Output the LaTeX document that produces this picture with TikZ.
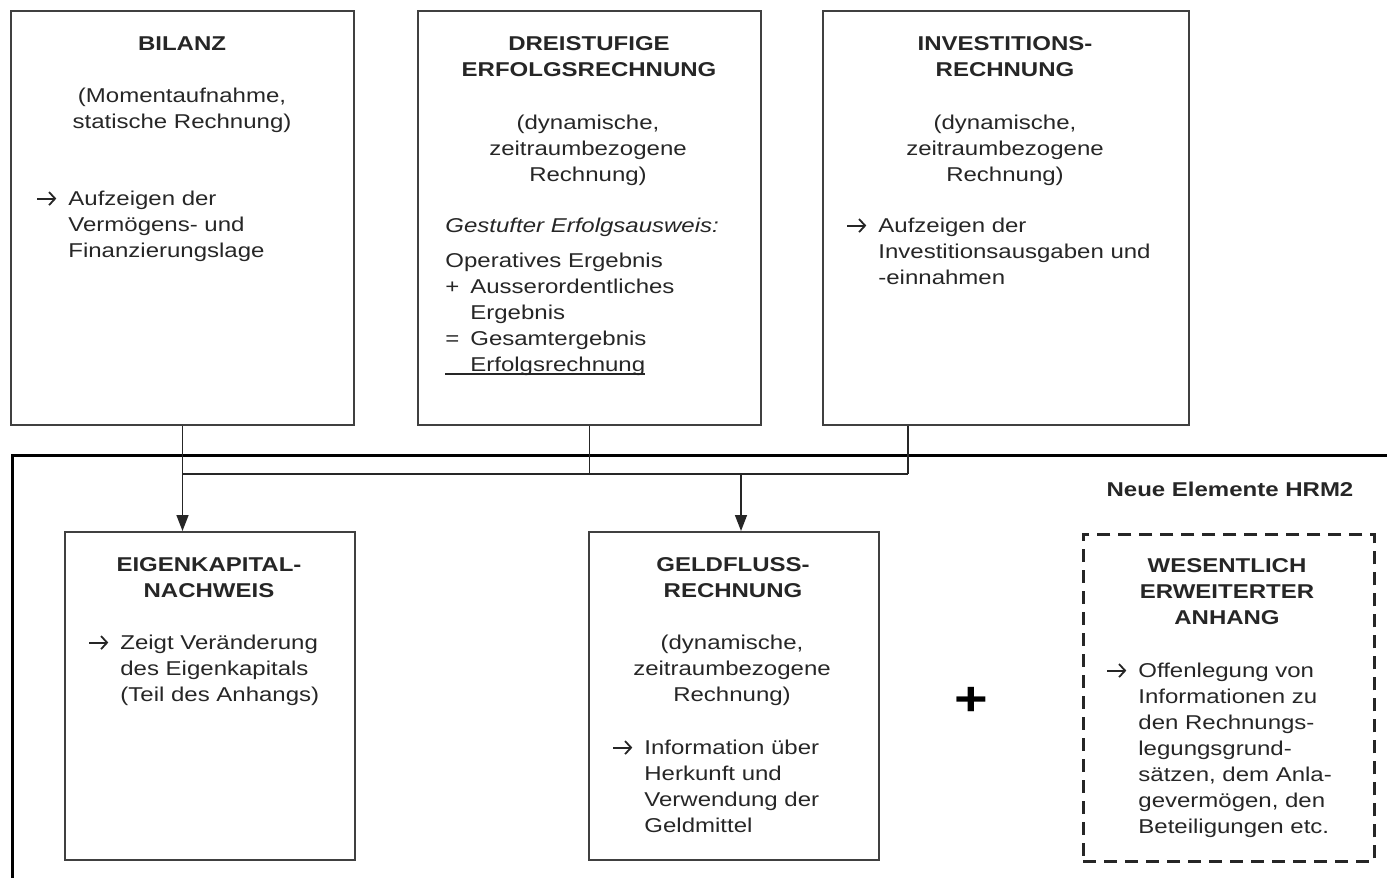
\documentclass[tikz,border=0pt]{standalone}
\usepackage{fontspec}
\setmainfont{Liberation Sans}[FakeStretch=1.2]
\usetikzlibrary{arrows.meta}
\newcommand\arrb{\makebox[16pt][l]{\tikz[baseline=-3.5pt,x=1pt,y=1pt]\draw[black!85, line width=0.9pt, -{Straight Barb[length=3pt,width=6.5pt,line width=0.9pt]}] (0.5pt,0pt) -- (10pt,0pt);}}
\newcommand\indt{\hspace*{16pt}}
\newcommand\opb[1]{\makebox[12.5pt][l]{#1}}
\newcommand\opi{\hspace*{12.5pt}}
\tikzset{
  px/.style={x=0.5pt,y=-0.5pt},
  box/.style={draw=black!75, line width=1pt, inner sep=0, anchor=north west},
  dbox/.style={draw=black!85, line width=1.4pt, dash pattern=on 6.5pt off 4pt, inner sep=0, anchor=north west},
  frame/.style={draw=black, line width=1.5pt},
  conn/.style={draw=black!85, line width=0.75pt},
  arr/.style={conn, -{Triangle[length=8pt,width=6pt]}},
  base/.style={font=\fontsize{10pt}{13pt}\selectfont, text=black!85, inner sep=0},
  ttl/.style={base, font=\fontsize{10pt}{13pt}\selectfont\bfseries, align=center, anchor=north},
  ctr/.style={base, align=center, anchor=north},
  lft/.style={base, align=left, anchor=north west},
  uline/.style={draw=black!85, line width=0.6pt}
}
\begin{document}
\begin{tikzpicture}[px]
\useasboundingbox (0,0) rectangle (1387,878);
% big frame
\draw[frame] (12,455) rectangle (1420,900);
% top boxes
\node[box, minimum width=171.5pt, minimum height=207pt] (bil) at (10,10) {};
\node[box, minimum width=171.5pt, minimum height=207pt] (drei) at (417,10) {};
\node[box, minimum width=183pt, minimum height=207pt] (inv) at (822,10) {};
% bottom boxes
\node[box, minimum width=145pt, minimum height=164pt] (ek) at (64,531) {};
\node[box, minimum width=145pt, minimum height=164pt] (gf) at (588,531) {};
\node[dbox, minimum width=145.5pt, minimum height=163.5pt] (wes) at (1082,533) {};
% connectors
\coordinate (jl) at (182,474);
\coordinate (jr) at (908,474);
\coordinate (jg) at (741,474);
\draw[conn] (drei.south) -- (drei.south |- jl);
\draw[conn] (jr |- inv.south) -- (jr);
\draw[conn] (jl) -- (jr);
\draw[arr] (bil.south) -- (bil.south |- ek.north);
\draw[arr] (jg) -- (jg |- gf.north);
% BILANZ texts
\node[ttl] (t1) at (182,32) {\strut BILANZ};
\node[ctr] (p1) at (182,84) {\strut(Momentaufnahme,\\statische Rechnung)};
\node[lft] (a1) at (36,187) {\strut\arrb Aufzeigen der\\\indt Vermögens- und\\\indt Finanzierungslage};
% DREISTUFIGE texts
\node[ttl] (t2) at (589,32) {\strut DREISTUFIGE\\ERFOLGSRECHNUNG};
\node[ctr] (p2) at (588,111) {\strut(dynamische,\\zeitraumbezogene\\Rechnung)};
\node[lft, font=\fontsize{10pt}{13pt}\selectfont\itshape] (g2) at (445,214) {\strut Gestufter Erfolgsausweis:};
\node[lft] (e2) at (445,249) {\strut Operatives Ergebnis\\\opb{+}Ausserordentliches\\\opi Ergebnis\\\opb{=}Gesamtergebnis\\\opi Erfolgsrechnung};
\draw[uline] (445,374) -- (645,374);
% INVESTITIONS texts
\node[ttl] (t3) at (1005,32) {\strut INVESTITIONS-\\RECHNUNG};
\node[ctr] (p3) at (1005,111) {\strut(dynamische,\\zeitraumbezogene\\Rechnung)};
\node[lft] (a3) at (846,214) {\strut\arrb Aufzeigen der\\\indt Investitionsausgaben und\\\indt -einnahmen};
% Neue Elemente
\node[base, font=\fontsize{10pt}{13pt}\selectfont\bfseries, anchor=base] (ne) at (1230,496) {Neue Elemente HRM2};
% EIGENKAPITAL texts
\node[ttl] (t4) at (209,553) {\strut EIGENKAPITAL-\\NACHWEIS};
\node[lft] (a4) at (88,631) {\strut\arrb Zeigt Veränderung\\\indt des Eigenkapitals\\\indt (Teil des Anhangs)};
% GELDFLUSS texts
\node[ttl] (t5) at (733,553) {\strut GELDFLUSS-\\RECHNUNG};
\node[ctr] (p5) at (732,631) {\strut(dynamische,\\zeitraumbezogene\\Rechnung)};
\node[lft] (a5) at (612,736) {\strut\arrb Information über\\\indt Herkunft und\\\indt Verwendung der\\\indt Geldmittel};
% plus
\node[base, font=\fontsize{24pt}{24pt}\selectfont\bfseries, text=black] (pl) at (971,701) {+};
% WESENTLICH texts
\node[ttl] (t6) at (1227,554) {\strut WESENTLICH\\ERWEITERTER\\ANHANG};
\node[lft] (a6) at (1106,659) {\strut\arrb Offenlegung von\\\indt Informationen zu\\\indt den Rechnungs-\\\indt legungsgrund-\\\indt sätzen, dem Anla-\\\indt gevermögen, den\\\indt Beteiligungen etc.};
\end{tikzpicture}
\end{document}
